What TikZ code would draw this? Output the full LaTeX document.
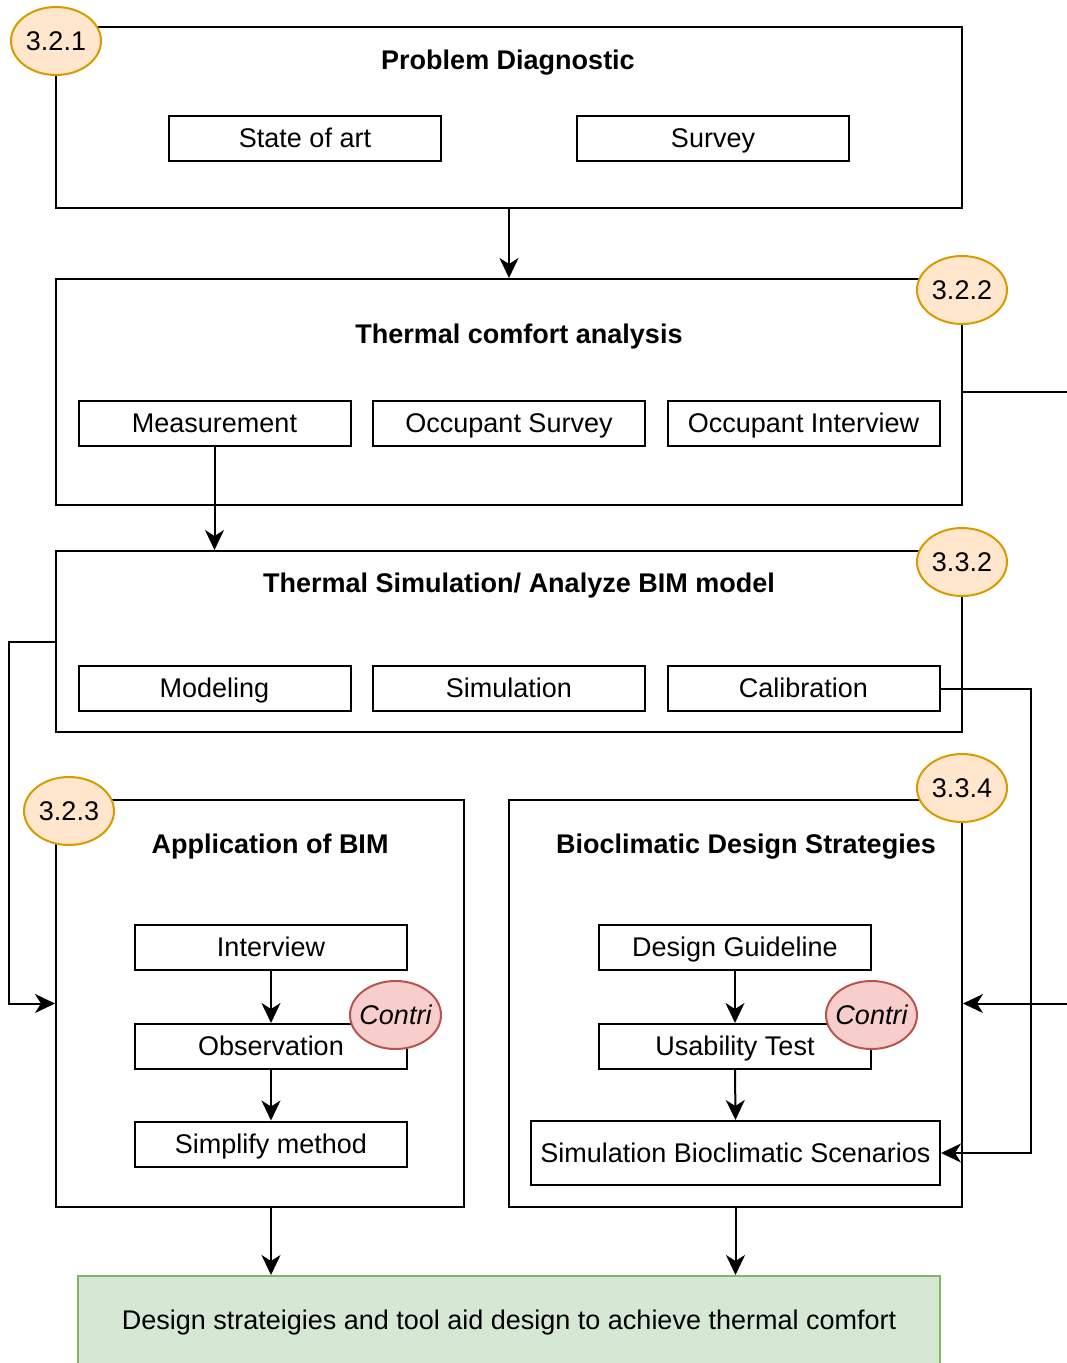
\documentclass[tikz,border=0pt]{standalone}
\usepackage{fontspec}
\setmainfont{Liberation Sans}
\usetikzlibrary{arrows.meta,shapes.geometric}
\definecolor{tagfill}{HTML}{FFE6CC}
\definecolor{tagline}{HTML}{D79B00}
\definecolor{contfill}{HTML}{F8CECC}
\definecolor{contline}{HTML}{B85450}
\definecolor{outfill}{HTML}{D5E8D4}
\definecolor{outline}{HTML}{82B366}
\tikzset{
  every node/.style={font=\fontsize{27pt}{32pt}\selectfont, text height=22pt, text depth=4pt},
  frame/.style={draw, line width=2pt, inner sep=0pt},
  item/.style={draw, line width=2pt, inner sep=0pt, minimum width=272pt, minimum height=45pt},
  title/.style={font=\fontsize{27pt}{32pt}\selectfont\bfseries},
  tag/.style={ellipse, draw=tagline, fill=tagfill, line width=2pt, minimum width=90pt, minimum height=68pt, inner sep=0pt},
  contri/.style={ellipse, draw=contline, fill=contfill, line width=2pt, minimum width=91pt, minimum height=68pt, inner sep=0pt,
    label={[font=\fontsize{27pt}{32pt}\selectfont\itshape, inner sep=0pt]center:Contri}},
  link/.style={line width=2pt, -{Stealth[length=20pt,width=19pt,inset=6pt]}}
}
\begin{document}
\begin{tikzpicture}[x=1pt, y=-1pt]
\useasboundingbox (0,0) rectangle (1066,1363);

% frames of the five stages
\node[frame, minimum width=906pt, minimum height=181pt] (b1) at (509,117.5) {};
\node[frame, minimum width=906pt, minimum height=226pt] (b2) at (509,392) {};
\node[frame, minimum width=906pt, minimum height=181pt] (b3) at (509,641.5) {};
\node[frame, minimum width=408pt, minimum height=407pt] (b4) at (260,1003.5) {};
\node[frame, minimum width=453pt, minimum height=407pt] (b5) at (735.5,1003.5) {};

% titles
\node[title] (t1) at (508,60) {Problem Diagnostic};
\node[title] (t2) at (519,334) {Thermal comfort analysis};
\node[title] (t3) at (519,583) {Thermal Simulation/ Analyze BIM model};
\node[title] (t4) at (270,844) {Application of BIM};
\node[title] (t5) at (746,844) {Bioclimatic Design Strategies};

% inner steps
\node[item] (sa) at (305,138.5) {State of art};
\node[item] (sv) at (713,138.5) {Survey};
\node[item] (me) at (214.5,423.5) {Measurement};
\node[item] (os) at (509,423.5) {Occupant Survey};
\node[item] (oi) at (803.5,423.5) {Occupant Interview};
\node[item] (mo) at (214.5,688.5) {Modeling};
\node[item] (si) at (509,688.5) {Simulation};
\node[item] (ca) at (803.5,688.5) {Calibration};
\node[item] (iv) at (271,947) {Interview};
\node[item] (ob) at (271,1046.5) {Observation};
\node[item] (sm) at (271,1144) {Simplify method};
\node[item] (dg) at (735,947) {Design Guideline};
\node[item] (ut) at (735,1046.5) {Usability Test};
\node[item, minimum width=409pt, minimum height=64pt] (sb) at (735.5,1153) {Simulation Bioclimatic Scenarios};

% outcome
\node[draw=outline, fill=outfill, line width=2pt, minimum width=862pt, minimum height=88pt, inner sep=0pt] (g) at (509,1320) {Design strateigies and tool aid design to achieve thermal comfort};

% connectors
\draw[link] (b1.south) -- (b2.north);
\draw[link] (me.south) -- (me.south |- b3.north);
\draw[link] (b2.east) -- ++(130,0) |- (b5.east);
\draw[link] (b3.west) -- ++(-46,0) |- (b4.west);
\draw[link] (ca.east) -- ++(90,0) |- (sb.east);
\draw[link] (iv.south) -- (ob.north);
\draw[link] (ob.south) -- (sm.north);
\draw[link] (dg.south) -- (ut.north);
\draw[link] (ut.south) -- (sb.north);
\draw[link] (ob.south |- b4.south) -- (ob.south |- g.north);
\draw[link] (b5.south) -- (b5.south |- g.north);

% section tags
\node[tag] (s1) at (56,41) {3.2.1};
\node[tag] (s2) at (962,290) {3.2.2};
\node[tag] (s3) at (962,562) {3.3.2};
\node[tag] (s4) at (69,811) {3.2.3};
\node[tag] (s5) at (962,788) {3.3.4};
\node[contri] (c1) at (395.5,1015) {};
\node[contri] (c2) at (871.5,1015) {};
\end{tikzpicture}
\end{document}
